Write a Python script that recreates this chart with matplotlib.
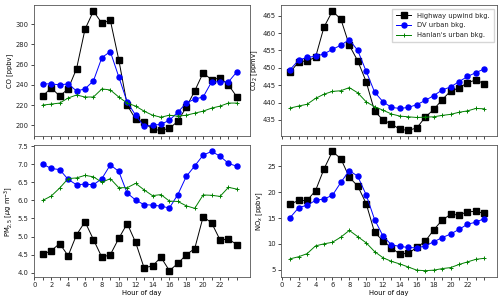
import numpy as np
import matplotlib.pyplot as plt

hours = list(range(1, 25))

co_hwy = [229, 237, 229, 236, 256, 295, 313, 301, 304, 265, 220, 206,
          203, 196, 195, 197, 204, 218, 234, 252, 245, 247, 240, 228]
co_dv = [241, 241, 240, 241, 234, 236, 244, 267, 273, 248, 223, 210,
         199, 200, 201, 205, 213, 222, 226, 228, 243, 243, 243, 253]
co_han = [220, 221, 222, 227, 230, 228, 228, 236, 235, 228, 222, 219,
          214, 210, 208, 210, 209, 210, 212, 214, 217, 219, 222, 222]

co2_hwy = [448.7, 451.7, 452.0, 453.0, 461.7, 466.3, 464.0, 456.5, 452.0, 446.0, 437.5, 435.0,
           433.8, 432.3, 432.0, 432.7, 435.8, 438.0, 440.8, 443.3, 444.2, 445.7, 446.5, 445.4]
co2_dv = [449.5, 452.2, 453.0, 453.3, 454.0, 455.3, 456.5, 458.1, 455.0, 449.0, 443.0, 440.2,
          438.6, 438.3, 438.6, 439.4, 440.6, 442.0, 443.6, 444.5, 446.0, 447.5, 448.6, 449.7]
co2_han = [438.4, 439.0, 439.5, 441.2, 442.4, 443.2, 443.4, 444.3, 442.8, 440.2, 438.8, 437.8,
           436.7, 436.1, 435.9, 435.7, 435.8, 435.9, 436.3, 436.6, 437.2, 437.6, 438.3, 438.2]

pm_hwy = [4.51, 4.61, 4.81, 4.47, 5.05, 5.41, 4.92, 4.43, 4.50, 4.95, 5.36, 4.84,
          4.14, 4.19, 4.43, 4.06, 4.26, 4.50, 4.67, 5.55, 5.38, 4.91, 4.93, 4.78]
pm_dv = [7.00, 6.88, 6.85, 6.58, 6.43, 6.45, 6.43, 6.60, 6.98, 6.80, 6.20, 6.01,
         5.88, 5.87, 5.84, 5.79, 6.16, 6.66, 6.95, 7.25, 7.35, 7.22, 7.02, 6.94]
pm_han = [6.00, 6.12, 6.34, 6.60, 6.62, 6.69, 6.65, 6.50, 6.60, 6.35, 6.35, 6.47,
          6.29, 6.13, 6.16, 5.98, 5.97, 5.85, 5.78, 6.15, 6.14, 6.11, 6.36, 6.31]

nox_hwy = [17.7, 18.4, 18.4, 20.3, 24.5, 27.9, 26.5, 22.9, 21.2, 17.8, 12.2, 10.6,
           9.2, 8.0, 8.2, 9.3, 10.5, 12.7, 14.6, 15.7, 15.6, 16.2, 16.3, 15.9]
nox_dv = [15.1, 17.0, 17.5, 18.4, 18.7, 19.4, 21.9, 24.2, 23.1, 19.5, 14.7, 11.5,
          9.8, 9.5, 9.3, 9.2, 9.6, 10.4, 11.2, 11.9, 12.8, 13.8, 14.2, 14.9]
nox_han = [7.1, 7.5, 8.1, 9.6, 10.0, 10.3, 11.3, 12.6, 11.4, 10.2, 8.5, 7.3,
           6.6, 6.1, 5.5, 4.9, 4.8, 4.9, 5.2, 5.4, 6.0, 6.5, 7.0, 7.2]

plt.rcParams['font.size'] = 4.9
plt.rcParams['axes.linewidth'] = 0.6
plt.rcParams['axes.edgecolor'] = '#555555'
plt.rcParams['text.color'] = '#222222'
plt.rcParams['xtick.labelcolor'] = '#222222'
plt.rcParams['ytick.labelcolor'] = '#222222'

fig, axes = plt.subplots(2, 2, figsize=(5, 3.04), dpi=100, sharex=True)
fig.subplots_adjust(left=0.067, right=0.994, top=0.983, bottom=0.09,
                    wspace=0.145, hspace=0.07)

panels = [
    (axes[0, 0], co_hwy, co_dv, co_han, 'CO [ppbv]'),
    (axes[0, 1], co2_hwy, co2_dv, co2_han, 'CO$_2$ [ppmv]'),
    (axes[1, 0], pm_hwy, pm_dv, pm_han, 'PM$_{2.5}$ [$\\mu$g m$^{-3}$]'),
    (axes[1, 1], nox_hwy, nox_dv, nox_han, 'NO$_x$ [ppbv]'),
]

for ax, hwy, dv, han, label in panels:
    ax.plot(hours, hwy, color='k', marker='s', markersize=3.8, linewidth=0.7,
            label='Highway upwind bkg.')
    ax.plot(hours, dv, color='b', marker='o', markersize=3.6, linewidth=0.7,
            label='DV urban bkg.')
    ax.plot(hours, han, color='g', marker='+', markersize=3.5, linewidth=0.7,
            markeredgewidth=0.7, label="Hanlan's urban bkg.")
    ax.set_ylabel(label, labelpad=2)
    ax.set_xticks(range(0, 24, 2))
    ax.set_xticks(range(0, 25), minor=True)
    ax.tick_params(which='both', length=2, width=0.5, pad=1.5)
    ax.set_xlim(-0.1, 25.5)

for ax in axes[1]:
    ax.set_xlabel('Hour of day', labelpad=2)

axes[0, 0].set_yticks([200, 220, 240, 260, 280, 300])
axes[0, 1].set_yticks([435, 440, 445, 450, 455, 460, 465])
axes[1, 0].set_yticks(np.arange(4.0, 7.6, 0.5))
axes[1, 1].set_yticks([5, 10, 15, 20, 25])

axes[0, 1].legend(loc='upper right', fontsize=4.9, frameon=True,
                  fancybox=False, edgecolor='#cccccc', handlelength=2.2,
                  borderpad=0.6, labelspacing=0.55)

fig.savefig('out.png', dpi=100)
